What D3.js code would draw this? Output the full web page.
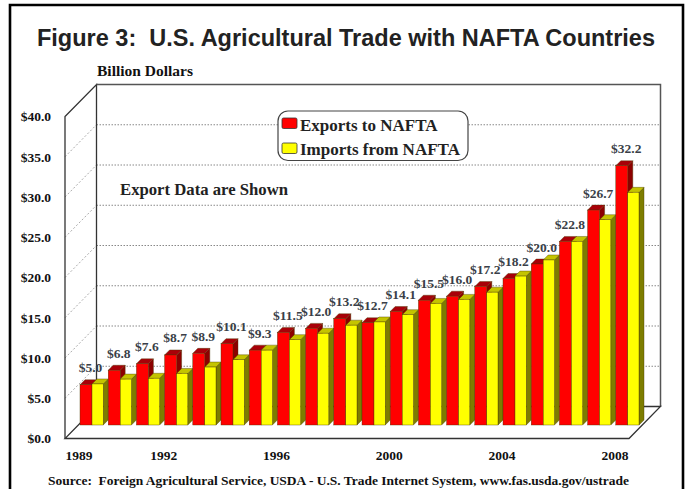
<!DOCTYPE html>
<html>
<head>
<meta charset="utf-8">
<script src="https://cdn.jsdelivr.net/npm/d3@7/dist/d3.min.js"></script>
<style>
html,body{margin:0;padding:0;background:#fff}
svg{display:block}
text{white-space:pre}
</style>
</head>
<body>
<svg id="chart" width="685" height="489"></svg>
<script>
// U.S. agricultural trade with NAFTA countries, billions of dollars
const years = d3.range(1989, 2009);
const exportsToNafta = [5.0,6.8,7.6,8.7,8.9,10.1,9.3,11.5,12.0,13.2,12.7,14.1,15.5,16.0,17.2,18.2,20.0,22.8,26.7,32.2];
const importsFromNafta = [5.1,5.7,5.8,6.4,7.2,8.1,9.3,10.6,11.4,12.4,12.8,13.7,15.1,15.6,16.5,18.5,20.5,22.8,25.5,28.9];
const yearTicks = [1989,1992,1996,2000,2004,2008];
const valueTicks = [0,5,10,15,20,25,30,35,40];
const legendLabels = ["Exports to NAFTA","Imports from NAFTA"];

const serif = "'Liberation Serif','Times New Roman',serif";
const svg = d3.select("#chart");

// front plane of the box
const x0 = 65, x1 = 629, yBase = 438.5, yTop = 116.5;
// depth of the box walls
const wallDx = 31.5, wallDy = 32;
// offset of the bars from the front plane, and the depth of each bar
const barDx = 15, barDy = 13.5, depth = 5;
const redWidth = 12, yellowWidth = 11.2;

const x = d3.scaleBand().domain(years).range([x0, x1]);
const y = d3.scaleLinear().domain([0, 40]).range([yBase, yTop]);
const path = d3.line();

// outer frame
svg.append("path").attr("d", "M10 489V5H683V489").attr("fill", "none")
  .attr("stroke", "#000").attr("stroke-width", 2.6);

// title and headings
svg.append("text").attr("x", 346).attr("y", 45.5).attr("text-anchor", "middle")
  .attr("font-family", "'Liberation Sans',Arial,sans-serif").attr("font-weight", 700)
  .attr("font-size", 23.5).attr("fill", "#222")
  .text("Figure 3:  U.S. Agricultural Trade with NAFTA Countries");
svg.append("text").attr("x", 97).attr("y", 76)
  .attr("font-family", serif).attr("font-weight", 700).attr("font-size", 15)
  .attr("textLength", 96).attr("lengthAdjust", "spacingAndGlyphs").attr("fill", "#111")
  .text("Billion Dollars");

// grid on the side and back walls
const grid = svg.append("g");
grid.selectAll("line.side").data(valueTicks.slice(1, -1)).join("line").attr("class", "side")
  .attr("x1", x0).attr("x2", x0 + wallDx)
  .attr("y1", d => y(d)).attr("y2", d => y(d) - wallDy)
  .attr("stroke", "#aaa").attr("stroke-dasharray", "2 2");
grid.selectAll("line.back").data(valueTicks.slice(1, -1)).join("line").attr("class", "back")
  .attr("x1", x0 + wallDx).attr("x2", x1 + wallDx)
  .attr("y1", d => y(d) - wallDy).attr("y2", d => y(d) - wallDy)
  .attr("stroke", "#888").attr("stroke-dasharray", "1.5 1.5");

// box outline
const box = svg.append("g").attr("fill", "none");
box.append("path").attr("stroke", "#333").attr("stroke-width", 1.3)
  .attr("d", path([[x0, yBase], [x0, yTop], [x0 + wallDx, yTop - wallDy], [x0 + wallDx, yBase - wallDy]]));
box.append("path").attr("stroke", "#555").attr("stroke-width", 1.5)
  .attr("d", path([[x0 + wallDx, yTop - wallDy], [x1 + wallDx, yTop - wallDy], [x1 + wallDx, yBase - wallDy]]));
box.append("path").attr("stroke", "#333").attr("stroke-width", 1.3)
  .attr("d", path([[x0 + wallDx, yBase - wallDy], [x1 + wallDx, yBase - wallDy], [x1, yBase], [x0, yBase], [x0 + wallDx, yBase - wallDy]]));

// one bar: side face, top face, then the front face
function drawBar(g, left, width, value, colors) {
  const bottom = yBase - barDy;
  const top = y(value) - barDy;
  const right = left + width;
  g.append("path").attr("fill", colors.side)
    .attr("d", path([[right, bottom], [right, top], [right + depth, top - depth], [right + depth, bottom - depth]]) + "Z");
  g.append("path").attr("fill", colors.top)
    .attr("d", path([[left, top], [right, top], [right + depth, top - depth], [left + depth, top - depth]]) + "Z");
  g.append("rect").attr("x", left).attr("y", top).attr("width", width).attr("height", bottom - top).attr("fill", colors.front);
}

const redFaces = {front: "#ff0000", top: "#a80008", side: "#8c0000"};
const yellowFaces = {front: "#ffff00", top: "#c4c400", side: "#7d7d00"};
const bars = svg.append("g").attr("stroke", "#4a3a00").attr("stroke-width", 0.4);
years.forEach((yr, i) => {
  const left = x(yr) + barDx;
  drawBar(bars, left, redWidth, exportsToNafta[i], redFaces);
  drawBar(bars, left + redWidth, yellowWidth, importsFromNafta[i], yellowFaces);
});

// export value labels above the red bars
svg.append("g").selectAll("text").data(years).join("text")
  .attr("x", d => x(d) + barDx + 10.5)
  .attr("y", (d, i) => y(exportsToNafta[i]) - barDy - 12.5)
  .attr("text-anchor", "middle")
  .attr("font-family", serif).attr("font-weight", 700).attr("font-size", 13.5).attr("fill", "#3a3f48")
  .text((d, i) => "$" + exportsToNafta[i].toFixed(1));

// axes
const yAxis = svg.append("g").attr("transform", `translate(${x0},0)`)
  .call(d3.axisLeft(y).tickValues(valueTicks).tickSize(0).tickPadding(14)
    .tickFormat(d => "$" + d.toFixed(1)));
yAxis.select(".domain").remove();
const xAxis = svg.append("g").attr("transform", `translate(0,${yBase})`)
  .call(d3.axisBottom(x).tickValues(yearTicks).tickSize(0).tickPadding(12));
xAxis.select(".domain").remove();
[yAxis, xAxis].forEach(a => a.selectAll("text")
  .attr("font-family", serif).attr("font-weight", 700).attr("font-size", 13.5).attr("fill", "#111"));

// legend
const legend = svg.append("g");
legend.append("rect").attr("x", 278).attr("y", 111).attr("width", 190).attr("height", 49.5).attr("rx", 10)
  .attr("fill", "#fff").attr("stroke", "#444").attr("stroke-width", 1.2);
const legendRows = legend.selectAll("g").data(legendLabels).join("g");
legendRows.append("rect").attr("x", 282).attr("y", (d, i) => 118 + i * 25).attr("width", 15).attr("height", 10.5)
  .attr("rx", 1.5).attr("fill", (d, i) => i ? "#ffff00" : "#ff0000").attr("stroke", "#333").attr("stroke-width", 0.8);
legendRows.append("text").attr("x", 300).attr("y", (d, i) => 130.5 + i * 24.5)
  .attr("font-family", serif).attr("font-weight", 700).attr("font-size", 17).attr("fill", "#222")
  .text(d => d);

// notes
svg.append("text").attr("x", 120).attr("y", 195)
  .attr("font-family", serif).attr("font-weight", 700).attr("font-size", 16.7).attr("fill", "#222")
  .text("Export Data are Shown");
svg.append("text").attr("x", 48).attr("y", 485)
  .attr("font-family", serif).attr("font-weight", 700).attr("font-size", 12.5)
  .attr("textLength", 581).attr("lengthAdjust", "spacingAndGlyphs").attr("fill", "#111")
  .text("Source:  Foreign Agricultural Service, USDA - U.S. Trade Internet System, www.fas.usda.gov/ustrade");
</script>
</body>
</html>
